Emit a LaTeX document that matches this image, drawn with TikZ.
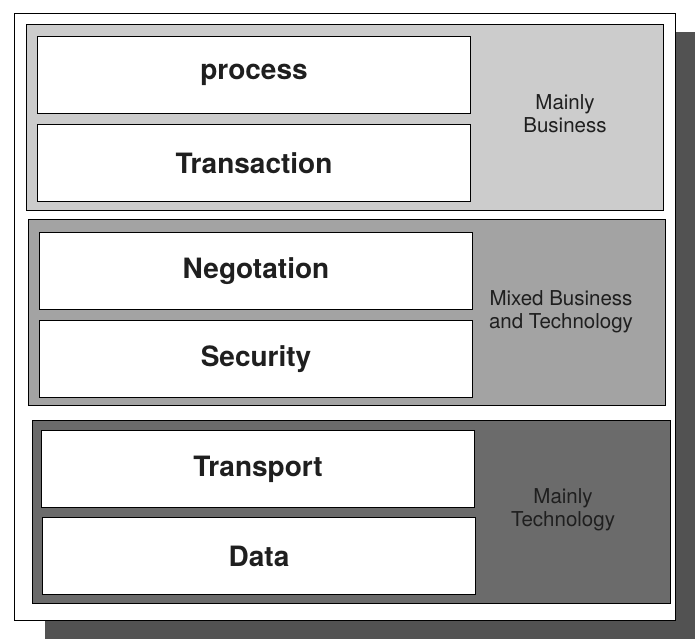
\documentclass[tikz,border=0pt]{standalone}
\usepackage{fontspec}
\setmainfont{TeX Gyre Heros}
\usetikzlibrary{calc}
\usetikzlibrary{positioning}

\tikzset{
  layerbox/.style={draw=black, line width=1.1pt, fill=white, inner sep=0pt,
    minimum width=433pt, minimum height=77pt,
    font=\bfseries\fontsize{28}{32}\selectfont, text=black!88},
  bandlabel/.style={align=center, inner sep=0pt,
    font=\fontsize{20.5}{23}\selectfont, text=black!88},
  band/.style={draw=black, line width=0.9pt}
}

\begin{document}
\begin{tikzpicture}[x=1pt,y=-1pt]
\useasboundingbox (0,0) rectangle (695,639);
% shadow and frame
\fill[black!68] (45,32) rectangle (695,639);
\filldraw[fill=white, draw=black, line width=0.8pt] (14,13) rectangle (675,620);
% the three bands
\filldraw[band, fill=black!20] (26,24) rectangle (663,210);
\filldraw[band, fill=black!36] (28,219) rectangle (665,405);
\filldraw[band, fill=black!58] (32,420) rectangle (670,603);
% layers
\node[layerbox] (process)     at (254,75)  {process};
\node[layerbox] (transaction) at (254,163) {Transaction};
\node[layerbox] (negotation)  at (256,271) {Negotation};
\node[layerbox] (security)    at (256,359) {Security};
\node[layerbox] (transport)   at (258,469) {Transport};
\node[layerbox] (data)        at (259,556) {Data};
% band labels
\node[bandlabel] (business)  at (565,114) {Mainly\\Business};
\node[bandlabel] (mixed)     at (561,312) {Mixed Business\\and Technology};
\node[bandlabel] (technology) at (563,510) {Mainly\\Technology};
\end{tikzpicture}
\end{document}
